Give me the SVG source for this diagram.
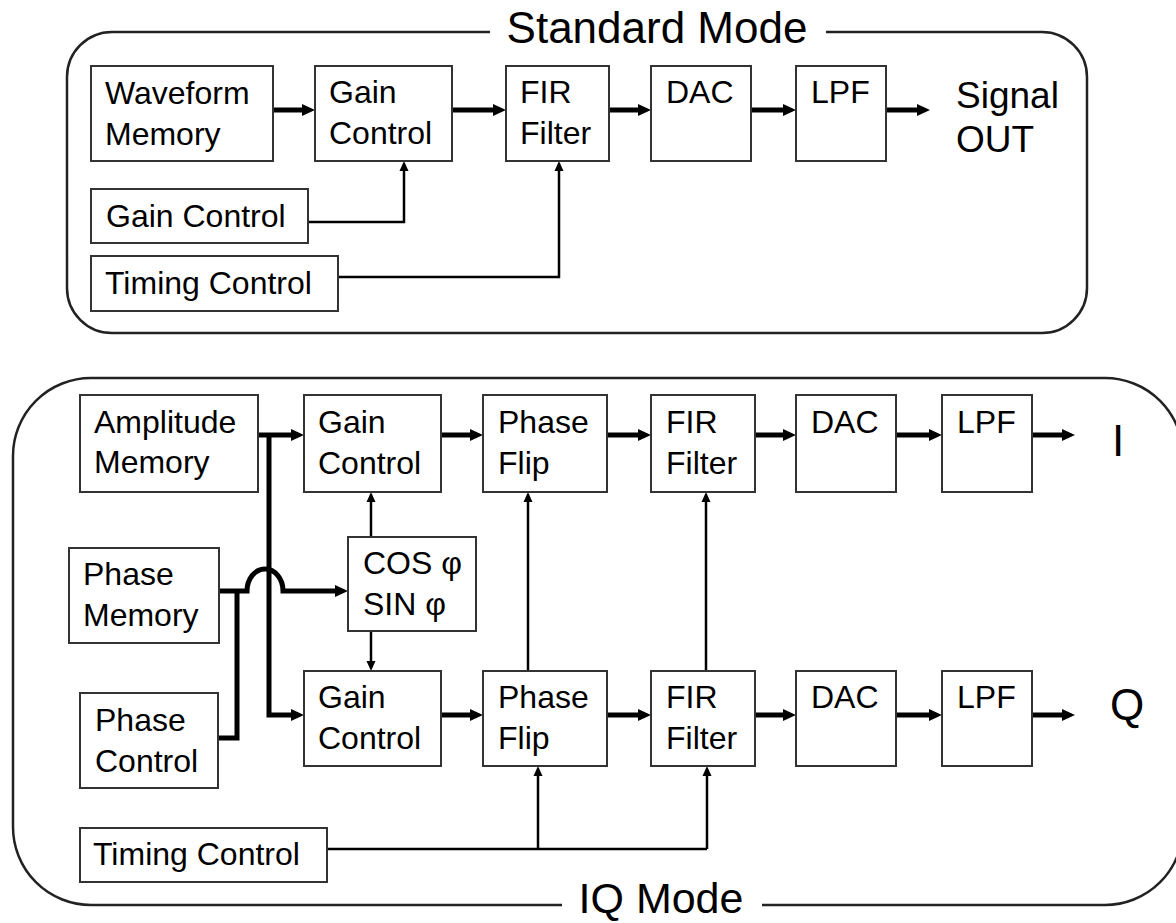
<svg xmlns="http://www.w3.org/2000/svg" width="1176" height="923" viewBox="0 0 1176 923">
<style>
text{font-family:"Liberation Sans",Arial,sans-serif;font-size:32px;fill:#000}
.t{font-size:44px}
.iq{font-size:43px}
.big{font-size:37px}
.box{fill:#fff;stroke:#333;stroke-width:2}
.panel{fill:none;stroke:#222;stroke-width:2.5}
.thick{fill:none;stroke:#000;stroke-width:5}
.thin{fill:none;stroke:#000;stroke-width:2.5}
.ta{marker-end:url(#ah)}
.sa{marker-end:url(#as)}
</style>
<defs>
<marker id="ah" markerUnits="userSpaceOnUse" markerWidth="13" markerHeight="14" refX="0" refY="7" orient="auto"><path d="M0,1 L13,7 L0,13 z" fill="#000"/></marker>
<marker id="as" markerUnits="userSpaceOnUse" markerWidth="10" markerHeight="10" refX="0" refY="5" orient="auto"><path d="M0,0.5 L10,5 L0,9.5 z" fill="#000"/></marker>
</defs>
<rect width="1176" height="923" fill="#fff"/>

<g id="standard-panel">
<path class="panel" d="M490,32 H112 A45,45 0 0 0 67,77 V288 A45,45 0 0 0 112,333 H1042 A45,45 0 0 0 1087,288 V77 A45,45 0 0 0 1042,32 H826"/>
<text class="t" x="657" y="43" text-anchor="middle">Standard Mode</text>
</g>

<g id="connectors">
<path class="thick ta" d="M273,110 H302"/>
<path class="thick ta" d="M452,110 H493"/>
<path class="thick ta" d="M609,110 H638"/>
<path class="thick ta" d="M751,110 H783"/>
<path class="thick ta" d="M886,110 H917"/>
<path class="thin sa" d="M308,222 H404 V171"/>
<path class="thin sa" d="M338,277 H559 V171"/>

<path class="thick ta" d="M258,435 H291"/>
<path class="thick ta" d="M269,435 V715 H291"/>
<path class="thick ta" d="M441,435 H470"/>
<path class="thick ta" d="M607,435 H638"/>
<path class="thick ta" d="M755,435 H783"/>
<path class="thick ta" d="M896,435 H929"/>
<path class="thick ta" d="M1032,435 H1062"/>
<path class="thick ta" d="M441,715 H470"/>
<path class="thick ta" d="M607,715 H638"/>
<path class="thick ta" d="M755,715 H783"/>
<path class="thick ta" d="M896,715 H929"/>
<path class="thick ta" d="M1032,715 H1062"/>
<path class="thick ta" d="M219,591 H247 A18,22 0 0 1 283,591 H335"/>
<path class="thick" d="M218,738 H237 V591"/>

<path class="thin sa" d="M371,537 V502"/>
<path class="thin sa" d="M371,631 V661"/>
<path class="thin sa" d="M528,671 V502"/>
<path class="thin sa" d="M706,671 V502"/>
<path class="thin" d="M327,849 H707"/>
<path class="thin sa" d="M538,849 V776"/>
<path class="thin sa" d="M707,849 V776"/>
</g>

<g id="sm-waveform-memory"><rect class="box" x="91" y="66" width="182" height="95"/><text x="105" y="104">Waveform</text><text x="105" y="145">Memory</text></g>
<g id="sm-gain-control"><rect class="box" x="315" y="66" width="137" height="95"/><text x="329" y="103">Gain</text><text x="329" y="144">Control</text></g>
<g id="sm-fir-filter"><rect class="box" x="506" y="66" width="103" height="95"/><text x="520" y="103">FIR</text><text x="520" y="144">Filter</text></g>
<g id="sm-dac"><rect class="box" x="651" y="66" width="100" height="95"/><text x="666" y="103">DAC</text></g>
<g id="sm-lpf"><rect class="box" x="796" y="66" width="90" height="95"/><text x="811" y="103">LPF</text></g>
<g id="sm-signal-out"><text class="big" x="956" y="108">Signal</text><text class="big" x="956" y="152">OUT</text></g>
<g id="sm-gain-control-in"><rect class="box" x="91" y="189" width="217" height="54"/><text x="106" y="227">Gain Control</text></g>
<g id="sm-timing-control"><rect class="box" x="91" y="256" width="247" height="55"/><text x="105" y="294">Timing Control</text></g>

<g id="iq-panel">
<path class="panel" d="M562,905 H91 A78,78 0 0 1 13,827 V456 A78,78 0 0 1 91,378 H1105 A78,78 0 0 1 1183,456 V827 A78,78 0 0 1 1105,905 H762"/>
<text class="iq" x="661" y="913" text-anchor="middle">IQ Mode</text>
</g>

<g id="iq-amplitude-memory"><rect class="box" x="80" y="395" width="178" height="97"/><text x="94" y="433">Amplitude</text><text x="94" y="473">Memory</text></g>
<g id="iq-gain-control-i"><rect class="box" x="304" y="395" width="137" height="97"/><text x="318" y="433">Gain</text><text x="318" y="474">Control</text></g>
<g id="iq-phase-flip-i"><rect class="box" x="483" y="395" width="124" height="97"/><text x="498" y="433">Phase</text><text x="498" y="474">Flip</text></g>
<g id="iq-fir-filter-i"><rect class="box" x="651" y="395" width="104" height="97"/><text x="666" y="433">FIR</text><text x="666" y="474">Filter</text></g>
<g id="iq-dac-i"><rect class="box" x="796" y="395" width="100" height="97"/><text x="811" y="433">DAC</text></g>
<g id="iq-lpf-i"><rect class="box" x="942" y="395" width="90" height="97"/><text x="957" y="433">LPF</text></g>
<g id="iq-out-i"><text class="t" x="1112" y="456">I</text></g>

<g id="iq-cos-sin"><rect class="box" x="348" y="537" width="128" height="94"/><text x="363" y="574">COS φ</text><text x="363" y="615">SIN φ</text></g>
<g id="iq-phase-memory"><rect class="box" x="69" y="548" width="150" height="95"/><text x="83" y="585">Phase</text><text x="83" y="626">Memory</text></g>
<g id="iq-phase-control"><rect class="box" x="80" y="693" width="138" height="95"/><text x="95" y="731">Phase</text><text x="95" y="772">Control</text></g>

<g id="iq-gain-control-q"><rect class="box" x="304" y="671" width="137" height="95"/><text x="318" y="708">Gain</text><text x="318" y="749">Control</text></g>
<g id="iq-phase-flip-q"><rect class="box" x="483" y="671" width="124" height="95"/><text x="498" y="708">Phase</text><text x="498" y="749">Flip</text></g>
<g id="iq-fir-filter-q"><rect class="box" x="651" y="671" width="104" height="95"/><text x="666" y="708">FIR</text><text x="666" y="749">Filter</text></g>
<g id="iq-dac-q"><rect class="box" x="796" y="671" width="100" height="95"/><text x="811" y="708">DAC</text></g>
<g id="iq-lpf-q"><rect class="box" x="942" y="671" width="90" height="95"/><text x="957" y="708">LPF</text></g>
<g id="iq-out-q"><text class="t" x="1110" y="720">Q</text></g>
<g id="iq-timing-control"><rect class="box" x="80" y="828" width="247" height="54"/><text x="93" y="865">Timing Control</text></g>
</svg>
